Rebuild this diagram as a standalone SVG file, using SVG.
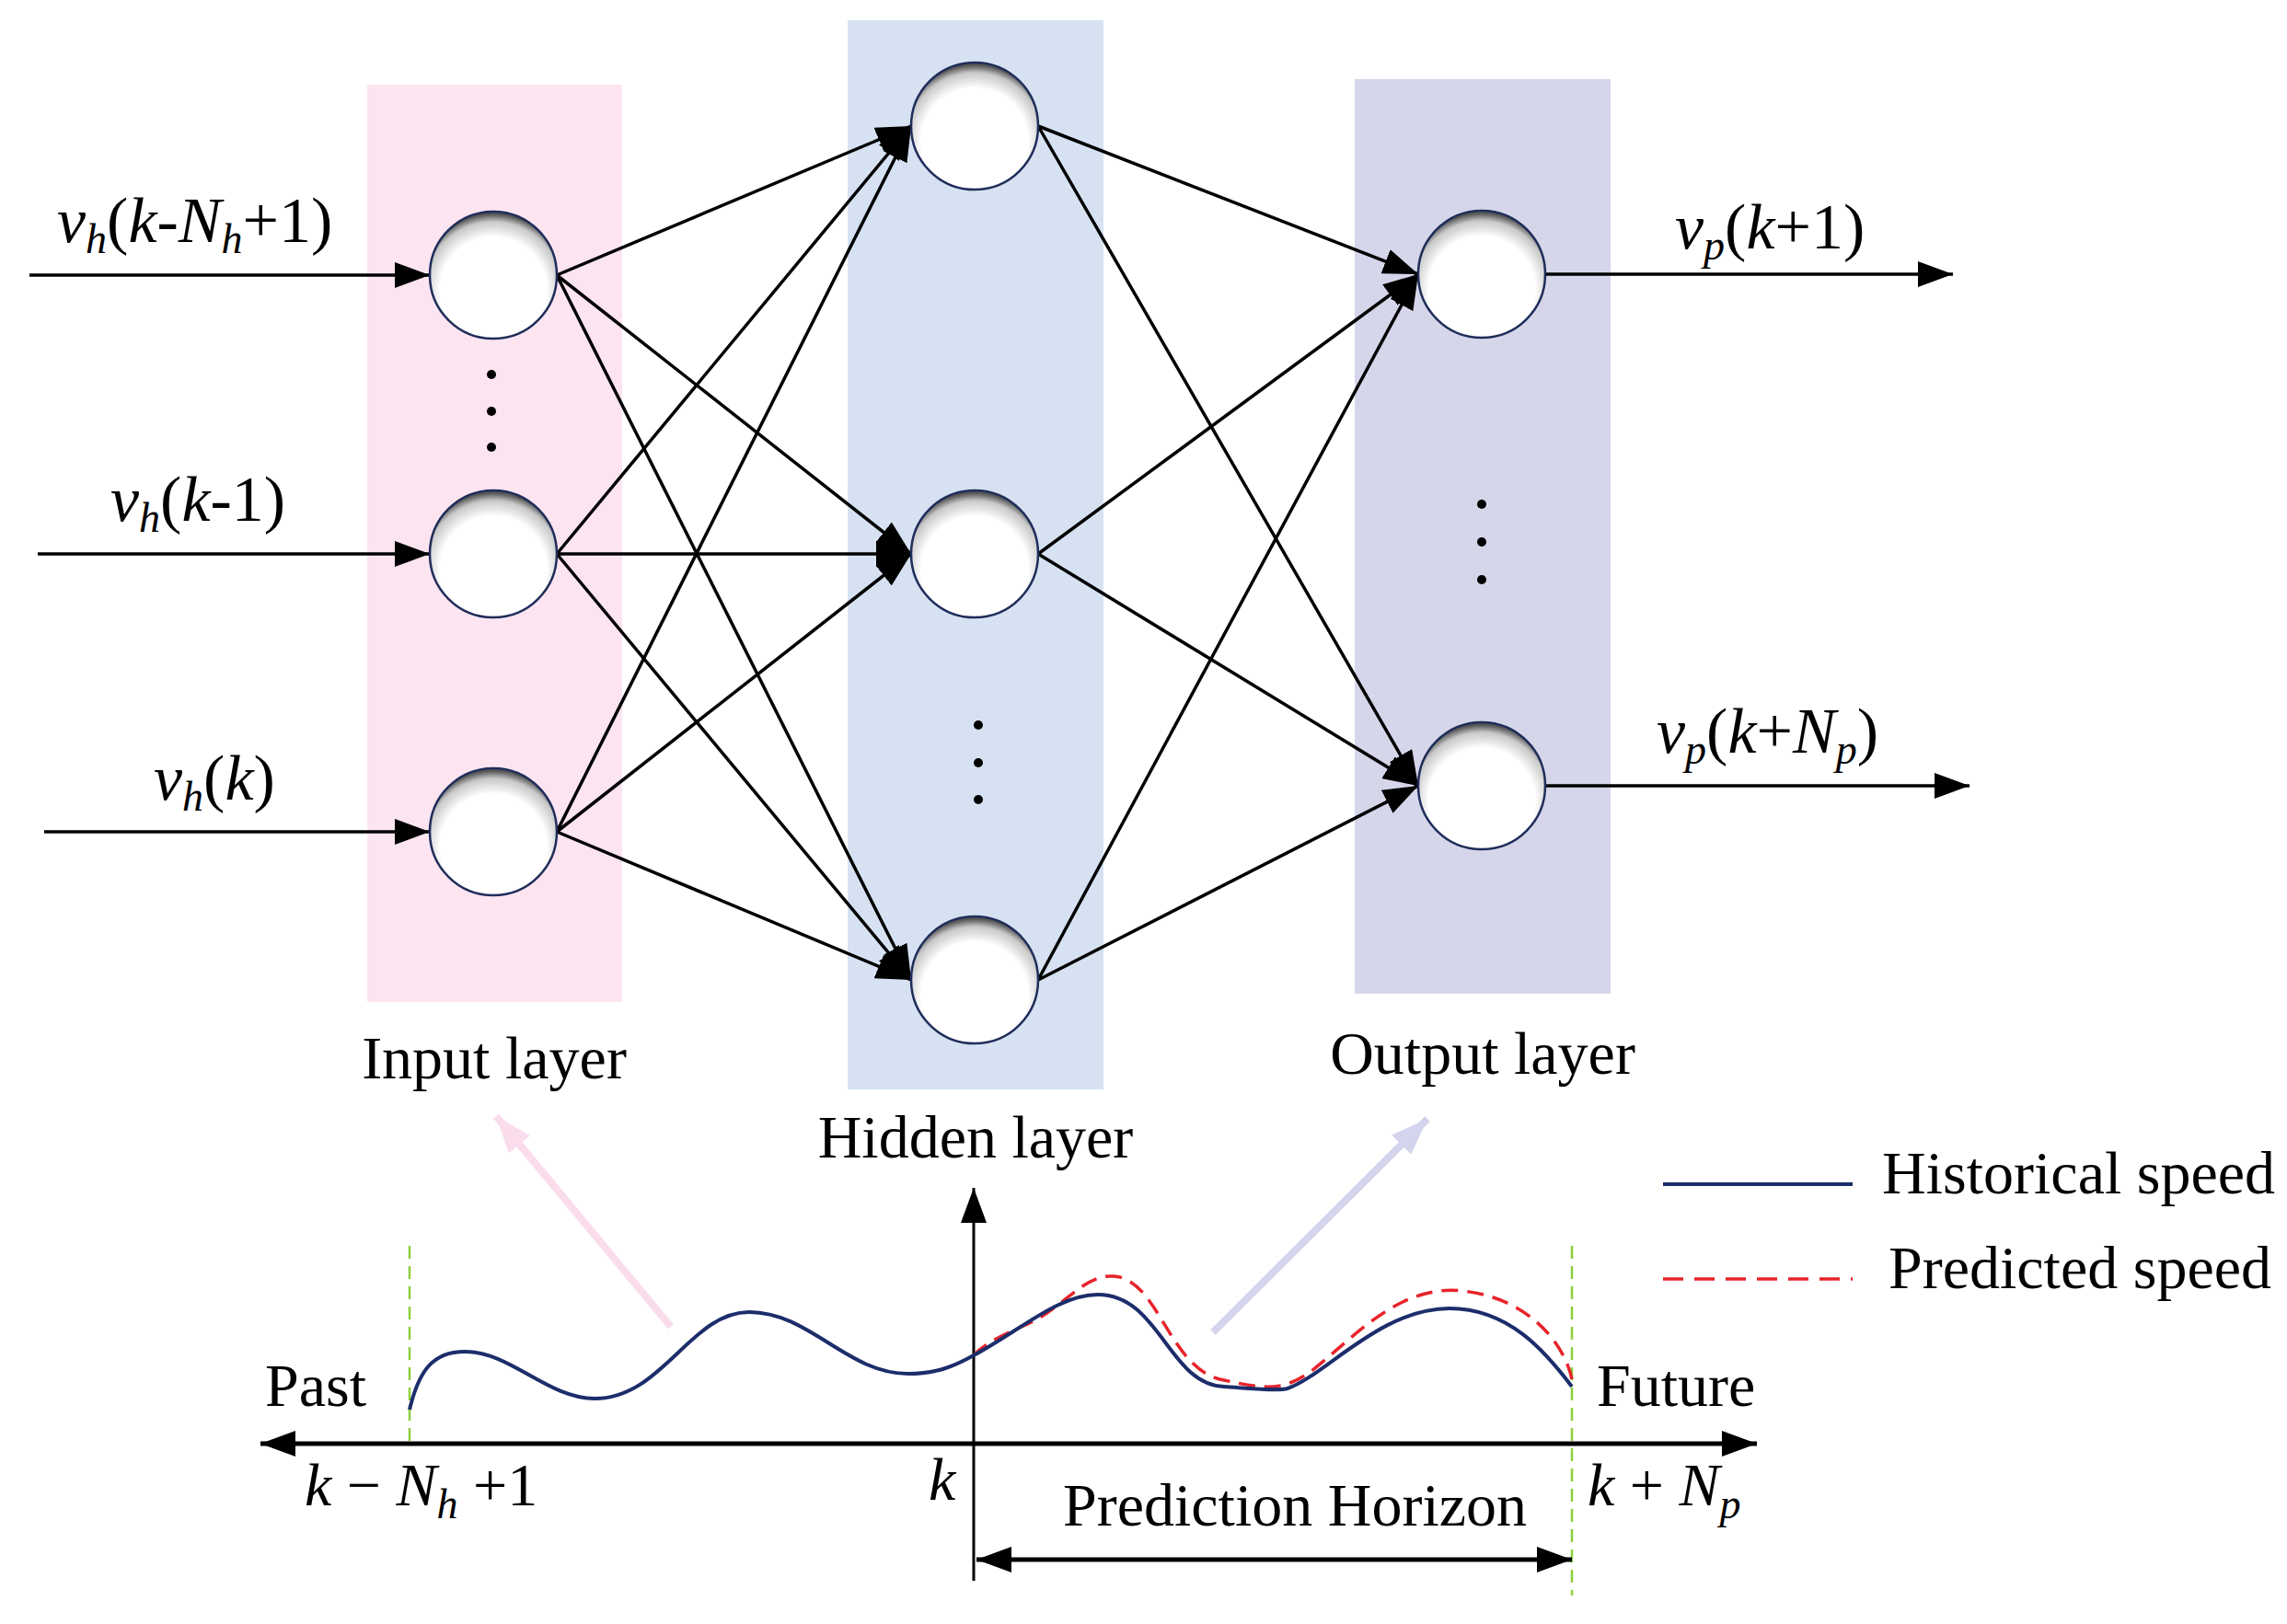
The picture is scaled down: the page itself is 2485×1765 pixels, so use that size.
<svg xmlns="http://www.w3.org/2000/svg" width="2485" height="1765" viewBox="0 0 2485 1765">
<style>
text{font-family:"Liberation Serif","Times New Roman",serif;fill:#000}
.lbl{font-size:66px}
.big{font-size:70px}
.i{font-style:italic}
.s{font-size:46px;font-style:italic}
.node{fill:url(#ng);stroke:#1f2d5a;stroke-width:2.5}
.c{stroke:#000;stroke-width:3.5;fill:none;marker-end:url(#big)}
.dot{fill:#000}
</style>
<defs>
<radialGradient id="ng" cx="0.5" cy="0.62" r="0.6">
<stop offset="0.7" stop-color="#fff"/>
<stop offset="0.9" stop-color="#c8c8c8"/>
<stop offset="1" stop-color="#555"/>
</radialGradient>
<marker id="big" markerWidth="38" markerHeight="28" refX="38" refY="14" orient="auto" markerUnits="userSpaceOnUse" viewBox="0 0 38 28">
<path d="M0,0 L38,14 L0,28 Z" fill="#000"/>
</marker>
<marker id="bigs" markerWidth="38" markerHeight="28" refX="0" refY="14" orient="auto" markerUnits="userSpaceOnUse" viewBox="0 0 38 28">
<path d="M38,0 L0,14 L38,28 Z" fill="#000"/>
</marker>
<marker id="pk" markerWidth="40" markerHeight="30" refX="40" refY="15" orient="auto" markerUnits="userSpaceOnUse" viewBox="0 0 40 30">
<path d="M0,0 L40,15 L0,30 Z" fill="#fadcec"/>
</marker>
<marker id="pu" markerWidth="40" markerHeight="30" refX="40" refY="15" orient="auto" markerUnits="userSpaceOnUse" viewBox="0 0 40 30">
<path d="M0,0 L40,15 L0,30 Z" fill="#d4d4ec"/>
</marker>
</defs>

<g id="bands">
<rect x="399" y="92" width="277" height="997" fill="#fce4f1"/>
<rect x="921" y="22" width="278" height="1162" fill="#d6e2f2"/>
<rect x="1472" y="86" width="278" height="994" fill="#d6d6ea"/>
</g>

<g id="connectors">
<line class="c" x1="32" y1="299" x2="467" y2="299"/>
<line class="c" x1="41" y1="602" x2="467" y2="602"/>
<line class="c" x1="48" y1="904" x2="467" y2="904"/>
<line class="c" x1="605" y1="299" x2="990" y2="137"/>
<line class="c" x1="605" y1="299" x2="990" y2="602"/>
<line class="c" x1="605" y1="299" x2="990" y2="1065"/>
<line class="c" x1="605" y1="602" x2="990" y2="137"/>
<line class="c" x1="605" y1="602" x2="990" y2="602"/>
<line class="c" x1="605" y1="602" x2="990" y2="1065"/>
<line class="c" x1="605" y1="904" x2="990" y2="137"/>
<line class="c" x1="605" y1="904" x2="990" y2="602"/>
<line class="c" x1="605" y1="904" x2="990" y2="1065"/>
<line class="c" x1="1128" y1="137" x2="1541" y2="298"/>
<line class="c" x1="1128" y1="137" x2="1541" y2="854"/>
<line class="c" x1="1128" y1="602" x2="1541" y2="298"/>
<line class="c" x1="1128" y1="602" x2="1541" y2="854"/>
<line class="c" x1="1128" y1="1065" x2="1541" y2="298"/>
<line class="c" x1="1128" y1="1065" x2="1541" y2="854"/>
<line class="c" x1="1679" y1="298" x2="2122" y2="298"/>
<line class="c" x1="1679" y1="854" x2="2140" y2="854"/>
</g>

<g id="input-nodes">
<circle class="node" cx="536" cy="299" r="69"/>
<circle class="node" cx="536" cy="602" r="69"/>
<circle class="node" cx="536" cy="904" r="69"/>
<circle class="dot" cx="534" cy="407" r="5"/><circle class="dot" cx="534" cy="447" r="5"/><circle class="dot" cx="534" cy="486" r="5"/>
</g>
<g id="hidden-nodes">
<circle class="node" cx="1059" cy="137" r="69"/>
<circle class="node" cx="1059" cy="602" r="69"/>
<circle class="node" cx="1059" cy="1065" r="69"/>
<circle class="dot" cx="1063" cy="788" r="5"/><circle class="dot" cx="1063" cy="829" r="5"/><circle class="dot" cx="1063" cy="869" r="5"/>
</g>
<g id="output-nodes">
<circle class="node" cx="1610" cy="298" r="69"/>
<circle class="node" cx="1610" cy="854" r="69"/>
<circle class="dot" cx="1610" cy="548" r="5"/><circle class="dot" cx="1610" cy="589" r="5"/><circle class="dot" cx="1610" cy="630" r="5"/>
</g>

<g id="io-labels" class="big">
<text x="62" y="263"><tspan class="i">v</tspan><tspan class="s" dy="12">h</tspan><tspan dy="-12">(</tspan><tspan class="i">k</tspan>-<tspan class="i">N</tspan><tspan class="s" dy="12">h</tspan><tspan dy="-12">+1)</tspan></text>
<text x="120" y="566"><tspan class="i">v</tspan><tspan class="s" dy="12">h</tspan><tspan dy="-12">(</tspan><tspan class="i">k</tspan>-1)</text>
<text x="167" y="869"><tspan class="i">v</tspan><tspan class="s" dy="12">h</tspan><tspan dy="-12">(</tspan><tspan class="i">k</tspan>)</text>
<text x="1820" y="270"><tspan class="i">v</tspan><tspan class="s" dy="12">p</tspan><tspan dy="-12">(</tspan><tspan class="i">k</tspan>+1)</text>
<text x="1800" y="818"><tspan class="i">v</tspan><tspan class="s" dy="12">p</tspan><tspan dy="-12">(</tspan><tspan class="i">k</tspan>+<tspan class="i">N</tspan><tspan class="s" dy="12">p</tspan><tspan dy="-12">)</tspan></text>
</g>

<g id="layer-labels" class="lbl" text-anchor="middle">
<text x="537" y="1172">Input layer</text>
<text x="1060" y="1258">Hidden layer</text>
<text x="1611" y="1167">Output layer</text>
</g>

<g id="timeline">
<line x1="729" y1="1442" x2="539" y2="1213" stroke="#fadcec" stroke-width="8" marker-end="url(#pk)"/>
<line x1="1318" y1="1448" x2="1551" y2="1216" stroke="#d4d4ec" stroke-width="8" marker-end="url(#pu)"/>
<line x1="445" y1="1354" x2="445" y2="1571" stroke="#8ccf3c" stroke-width="2.5" stroke-dasharray="14,8"/>
<line x1="1708" y1="1354" x2="1708" y2="1734" stroke="#8ccf3c" stroke-width="2.5" stroke-dasharray="14,8"/>
<line x1="1058" y1="1718" x2="1058" y2="1291" stroke="#000" stroke-width="3" marker-end="url(#big)"/>
<line x1="283" y1="1569" x2="1909" y2="1569" stroke="#000" stroke-width="5" marker-start="url(#bigs)" marker-end="url(#big)"/>
<line x1="1061" y1="1695" x2="1708" y2="1695" stroke="#000" stroke-width="5" marker-start="url(#bigs)" marker-end="url(#big)"/>
<path d="M1058,1473 C1075,1455 1105,1445 1125,1435 C1160,1415 1180,1385 1210,1387 C1260,1390 1270,1490 1330,1500 C1375,1510 1395,1512 1425,1490 C1470,1455 1520,1395 1589,1403 C1660,1410 1700,1460 1708,1499" fill="none" stroke="#e8232a" stroke-width="3.5" stroke-dasharray="18,10"/>
<path d="M445,1532 C455,1490 470,1469 505,1469 C555,1469 595,1520 646,1520 C720,1520 750,1426 814,1426 C880,1426 920,1493 987,1493 C1020,1493 1040,1483 1058,1473 C1110,1445 1150,1407 1193,1407 C1260,1407 1270,1505 1330,1507 C1360,1509 1390,1512 1399,1509 C1440,1495 1500,1422 1575,1422 C1640,1422 1680,1470 1708,1507" fill="none" stroke="#1c2d6b" stroke-width="4"/>
<text class="lbl" x="288" y="1528">Past</text>
<text class="lbl" x="1735" y="1528">Future</text>
<text class="lbl" x="331" y="1636"><tspan class="i">k</tspan> − <tspan class="i">N</tspan><tspan class="s" dy="14">h</tspan><tspan dy="-14"> +1</tspan></text>
<text class="lbl i" x="1009" y="1630">k</text>
<text class="lbl" x="1155" y="1658">Prediction Horizon</text>
<text class="lbl" x="1725" y="1636"><tspan class="i">k</tspan> + <tspan class="i">N</tspan><tspan class="s" dy="14">p</tspan></text>
</g>

<g id="legend">
<line x1="1807" y1="1287" x2="2013" y2="1287" stroke="#1c2d6b" stroke-width="4"/>
<line x1="1807" y1="1390" x2="2013" y2="1390" stroke="#e8232a" stroke-width="3.5" stroke-dasharray="22,12"/>
<text class="lbl" x="2045" y="1297">Historical speed</text>
<text class="lbl" x="2052" y="1400">Predicted speed</text>
</g>
</svg>
